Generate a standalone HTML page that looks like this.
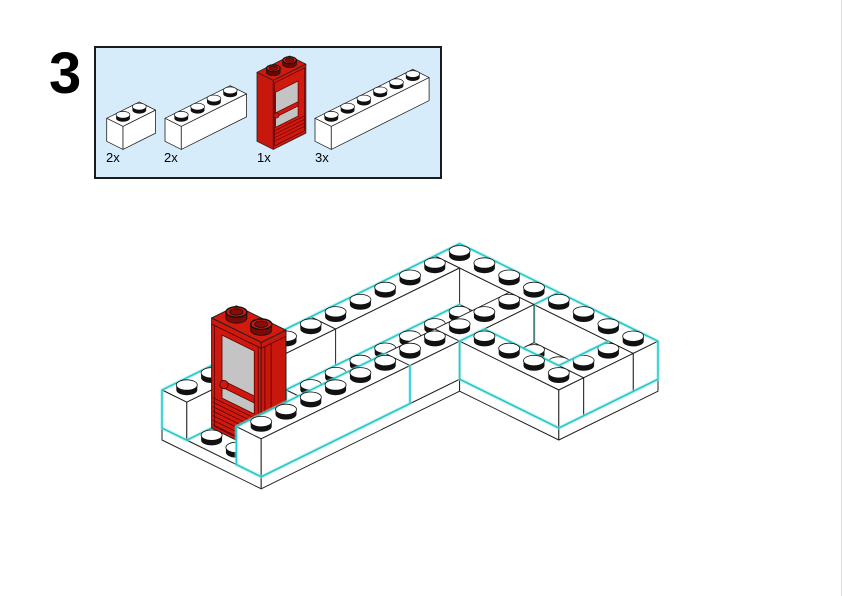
<!DOCTYPE html>
<html>
<head>
<meta charset="utf-8">
<style>
html,body{margin:0;padding:0;background:#fff;}
body{width:842px;height:596px;overflow:hidden;}
svg{display:block;}
</style>
</head>
<body>
<svg width="842" height="596" viewBox="0 0 842 596" xmlns="http://www.w3.org/2000/svg">
<defs>
  <g id="st">
    <path d="M-10.5,-5 L-10.5,0 A10.5,5.2 0 0 0 10.5,0 L10.5,-5 Z" fill="#111"/>
    <ellipse cx="0" cy="-5" rx="10.5" ry="5.2" fill="#fff" stroke="#111" stroke-width="0.8"/>
  </g>
  <g id="dst">
    <path d="M-10.5,-6 L-10.5,0 A10.5,5.2 0 0 0 10.5,0 L10.5,-6 Z" fill="#7a0a05" stroke="#111" stroke-width="0.8"/>
    <ellipse cx="0" cy="-6" rx="10.5" ry="5.2" fill="#d0190e" stroke="#111" stroke-width="1.4"/>
    <ellipse cx="0" cy="-6" rx="6.5" ry="3.2" fill="#8a0c06" stroke="#111" stroke-width="0.8"/>
  </g>
  <g id="ss">
    <path d="M-6.9,-3.5 L-6.9,0 A6.9,3.45 0 0 0 6.9,0 L6.9,-3.5 Z" fill="#111"/>
    <ellipse cx="0" cy="-3.5" rx="6.9" ry="3.45" fill="#fff" stroke="#111" stroke-width="0.7"/>
  </g>
  <g id="dss">
    <path d="M-6.9,-4 L-6.9,0 A6.9,3.45 0 0 0 6.9,0 L6.9,-4 Z" fill="#6a0804" stroke="#111" stroke-width="0.6"/>
    <ellipse cx="0" cy="-4" rx="6.9" ry="3.45" fill="#d0190e" stroke="#111" stroke-width="1.1"/>
    <ellipse cx="0" cy="-4" rx="4.2" ry="2.1" fill="#8a0c06" stroke="#111" stroke-width="0.6"/>
  </g>
</defs>

<!-- page edge line -->
<rect x="841" y="0" width="1" height="596" fill="#dcdcdc"/>

<!-- step number -->
<text x="49" y="93" font-family="Liberation Sans, Arial, sans-serif" font-weight="bold" font-size="58" fill="#000">3</text>

<!-- parts list box -->
<rect x="95" y="47" width="346" height="131" fill="#d6ecfb" stroke="#1a1a1a" stroke-width="2"/>

<g stroke="#222" stroke-width="0.8" stroke-linejoin="round">
  <!-- 1x2 -->
  <polygon points="106.7,118.3 139.3,102 155.6,110.15 123,126.45" fill="#fff"/>
  <polygon points="106.7,118.3 123,126.45 123,149.45 106.7,141.3" fill="#fff"/>
  <polygon points="123,126.45 155.6,110.15 155.6,133.15 123,149.45" fill="#fff"/>
  <!-- 1x4 -->
  <polygon points="165,118.3 230.2,85.7 246.5,93.85 181.3,126.45" fill="#fff"/>
  <polygon points="165,118.3 181.3,126.45 181.3,149.45 165,141.3" fill="#fff"/>
  <polygon points="181.3,126.45 246.5,93.85 246.5,116.85 181.3,149.45" fill="#fff"/>
  <!-- 1x6 -->
  <polygon points="315,118.3 412.8,69.4 429.1,77.55 331.3,126.45" fill="#fff"/>
  <polygon points="315,118.3 331.3,126.45 331.3,149.45 315,141.3" fill="#fff"/>
  <polygon points="331.3,126.45 429.1,77.55 429.1,100.55 331.3,149.45" fill="#fff"/>
  <!-- door -->
  <polygon points="257,72.3 289.6,56 305.9,64.15 273.3,80.45" fill="#d0190e"/>
  <polygon points="257,72.3 273.3,80.45 273.3,149.45 257,141.3" fill="#c8170c"/>
  <polygon points="273.3,80.45 305.9,64.15 305.9,133.15 273.3,149.45" fill="#d0190e"/>
</g>
<g transform="matrix(16.3,-8.15,0,-1,273.3,149.45)">
  <rect x="0.08" y="3" width="1.84" height="63" fill="none" stroke="#5a0000" stroke-width="0.7" vector-effect="non-scaling-stroke"/>
  <rect x="0.14" y="21" width="1.38" height="35" fill="#c4c4c4" stroke="#5a0000" stroke-width="0.7" vector-effect="non-scaling-stroke"/>
  <rect x="0.14" y="31" width="1.38" height="4.5" fill="#d0190e" stroke="#5a0000" stroke-width="0.6" vector-effect="non-scaling-stroke"/>
  <path d="M0.05,18 L1.95,18 M0.05,14.5 L1.95,14.5 M0.05,11 L1.95,11 M0.05,7.5 L1.95,7.5" stroke="#5a0000" stroke-width="0.6" fill="none" vector-effect="non-scaling-stroke"/>
</g>
<circle cx="276.5" cy="115.5" r="2.6" fill="#d0190e" stroke="#400" stroke-width="0.6"/>

<use href="#ss" x="123" y="118.3"/><use href="#ss" x="139.3" y="110.15"/>
<use href="#ss" x="181.3" y="118.3"/><use href="#ss" x="197.6" y="110.15"/><use href="#ss" x="213.9" y="102"/><use href="#ss" x="230.2" y="93.85"/>
<use href="#ss" x="331.3" y="118.3"/><use href="#ss" x="347.6" y="110.15"/><use href="#ss" x="363.9" y="102"/><use href="#ss" x="380.2" y="93.85"/><use href="#ss" x="396.5" y="85.7"/><use href="#ss" x="412.8" y="77.55"/>
<use href="#dss" x="273.3" y="72.3"/><use href="#dss" x="289.6" y="64.15"/>

<g font-family="Liberation Sans, Arial, sans-serif" font-size="13" fill="#000">
  <text x="106" y="162">2x</text>
  <text x="164" y="162">2x</text>
  <text x="257" y="162">1x</text>
  <text x="315" y="162">3x</text>
</g>

<!-- ============ MAIN MODEL ============ -->
<g fill="#fff" stroke="#222" stroke-width="1" stroke-linejoin="round">
  <!-- plate -->
  <polygon points="162,428 459.6,281.6 658,379.2 558.8,428 459.6,379.2 261.2,476.8"/>
  <polygon points="162,428 261.2,476.8 261.2,488.8 162,440"/>
  <polygon points="261.2,476.8 459.6,379.2 459.6,391.2 261.2,488.8"/>
  <polygon points="459.6,379.2 558.8,428 558.8,440 459.6,391.2"/>
  <polygon points="558.8,428 658,379.2 658,391.2 558.8,440"/>
  <!-- right wall -->
  <polygon points="434.8,255.8 633.2,353.4 633.2,391.4 434.8,293.8"/>
  <polygon points="434.8,255.8 459.6,243.6 658,341.2 633.2,353.4"/>
  <polygon points="633.2,353.4 658,341.2 658,379.2 633.2,391.4"/>
  <path d="M534,304.6 L558.8,292.4 M534,304.6 L534,342.6" fill="none"/>
  <!-- back wall -->
  <polygon points="162,390 434.8,255.8 459.6,268 186.8,402.2"/>
  <polygon points="162,390 186.8,402.2 186.8,440.2 162,428"/>
  <polygon points="186.8,402.2 459.6,268 459.6,306 186.8,440.2"/>
  <path d="M310.8,316.8 L335.6,329 L335.6,367" fill="none"/>
</g>
<g fill="none" stroke-linejoin="round" stroke-linecap="round">
  <path d="M162,428 L162,390 L434.8,255.8 L459.6,243.6 L658,341.2 L658,379.2 M534,342.6 L534,304.6 L558.8,292.4 M162,428 L186.8,440.2 L211.6,428" stroke="#8ee8e8" stroke-width="3.6" opacity="0.5"/>
  <path d="M162,428 L162,390 L434.8,255.8 L459.6,243.6 L658,341.2 L658,379.2 M534,342.6 L534,304.6 L558.8,292.4 M162,428 L186.8,440.2 L211.6,428" stroke="#22c8c8" stroke-width="1.5"/>
</g>
<!-- back wall & right wall studs -->
<use href="#st" x="186.8" y="390"/><use href="#st" x="211.6" y="377.8"/><use href="#st" x="236.4" y="365.6"/><use href="#st" x="261.2" y="353.4"/><use href="#st" x="286" y="341.2"/><use href="#st" x="310.8" y="329"/><use href="#st" x="335.6" y="316.8"/><use href="#st" x="360.4" y="304.6"/><use href="#st" x="385.2" y="292.4"/><use href="#st" x="410" y="280.2"/><use href="#st" x="434.8" y="268"/>
<use href="#st" x="459.6" y="255.8"/><use href="#st" x="484.4" y="268"/><use href="#st" x="509.2" y="280.2"/><use href="#st" x="534" y="292.4"/><use href="#st" x="558.8" y="304.6"/><use href="#st" x="583.6" y="316.8"/><use href="#st" x="608.4" y="329"/><use href="#st" x="633.2" y="341.2"/>

<!-- middle row -->
<g fill="#fff" stroke="#222" stroke-width="1" stroke-linejoin="round">
  <polygon points="286,389.8 310.8,402 310.8,440 286,427.8"/>
  <polygon points="286,389.8 459.6,304.4 484.4,316.6 310.8,402"/>
</g>
<g fill="none" stroke-linecap="round">
  <path d="M286,402 L286,389.8 L459.6,304.4" stroke="#8ee8e8" stroke-width="3.6" opacity="0.5"/>
  <path d="M286,402 L286,389.8 L459.6,304.4" stroke="#22c8c8" stroke-width="1.5"/>
</g>
<use href="#st" x="310.8" y="389.8"/><use href="#st" x="335.6" y="377.6"/><use href="#st" x="360.4" y="365.4"/><use href="#st" x="385.2" y="353.2"/><use href="#st" x="410" y="341"/><use href="#st" x="434.8" y="328.8"/><use href="#st" x="459.6" y="316.6"/>

<!-- door -->
<g stroke="#222" stroke-width="1" stroke-linejoin="round">
  <polygon points="211.6,318 236.4,305.8 286,330.2 261.2,342.4" fill="#d41a0e"/>
  <polygon points="211.6,318 261.2,342.4 261.2,452.4 211.6,428" fill="#d0190e"/>
  <polygon points="261.2,342.4 286,330.2 286,440.2 261.2,452.4" fill="#c8170c"/>
</g>
<g transform="matrix(24.8,12.2,0,-1,211.6,440)">
  <rect x="0.12" y="15" width="1.76" height="101" fill="none" stroke="#5a0000" stroke-width="0.8" vector-effect="non-scaling-stroke"/>
  <rect x="0.42" y="47" width="1.3" height="63" fill="#c4c4c4" stroke="#5a0000" stroke-width="0.8" vector-effect="non-scaling-stroke"/>
  <rect x="0.42" y="58" width="1.3" height="7" fill="#d0190e" stroke="#5a0000" stroke-width="0.8" vector-effect="non-scaling-stroke"/>
  <path d="M0.05,43 L1.95,43 M0.05,38.5 L1.95,38.5 M0.05,34 L1.95,34 M0.05,29.5 L1.95,29.5 M0.05,25 L1.95,25 M0.05,20.5 L1.95,20.5 M0.05,16 L1.95,16" stroke="#5a0000" stroke-width="0.8" fill="none" vector-effect="non-scaling-stroke"/>
  <path d="M0,116 L2,116" stroke="#5a0000" stroke-width="0.8" fill="none" vector-effect="non-scaling-stroke"/>
</g>
<g transform="matrix(24.8,-12.2,0,-1,261.2,464.4)">
  <path d="M0.15,14 L0.15,116 M0.4,14 L0.4,116 M0,116 L1,116" stroke="#5a0000" stroke-width="0.8" fill="none" vector-effect="non-scaling-stroke"/>
</g>
<circle cx="224" cy="384.6" r="4.2" fill="#d0190e" stroke="#400" stroke-width="0.8"/>
<use href="#dst" x="236.4" y="318"/><use href="#dst" x="261.2" y="330.2"/>

<!-- plate studs in left gap -->
<use href="#st" x="211.6" y="440.2"/><use href="#st" x="236.4" y="452.4"/>

<!-- front wall -->
<g fill="#fff" stroke="#222" stroke-width="1" stroke-linejoin="round">
  <polygon points="236.4,426.6 261.2,438.8 261.2,476.8 236.4,464.6"/>
  <polygon points="236.4,426.6 509.2,292.4 534,304.6 261.2,438.8"/>
  <polygon points="261.2,438.8 534,304.6 534,342.6 261.2,476.8"/>
  <path d="M385.2,353.4 L410,365.6 L410,403.6 M434.8,329 L459.6,341.2" fill="none"/>
</g>
<g fill="none" stroke-linejoin="round" stroke-linecap="round">
  <path d="M236.4,426.6 L236.4,464.6 L261.2,476.8 L410,403.6 L410,365.6 M236.4,426.6 L385.2,353.4" stroke="#8ee8e8" stroke-width="3.6" opacity="0.5"/>
  <path d="M236.4,426.6 L236.4,464.6 L261.2,476.8 L410,403.6 L410,365.6 M236.4,426.6 L385.2,353.4" stroke="#22c8c8" stroke-width="1.5"/>
</g>
<use href="#st" x="261.2" y="426.6"/><use href="#st" x="286" y="414.4"/><use href="#st" x="310.8" y="402.2"/><use href="#st" x="335.6" y="390"/><use href="#st" x="360.4" y="377.8"/><use href="#st" x="385.2" y="365.6"/><use href="#st" x="410" y="353.4"/><use href="#st" x="434.8" y="341.2"/><use href="#st" x="459.6" y="329"/><use href="#st" x="484.4" y="316.8"/><use href="#st" x="509.2" y="304.6"/>

<!-- plate studs in hole -->
<use href="#st" x="534" y="354.8"/><use href="#st" x="509.2" y="367"/><use href="#st" x="558.8" y="367"/><use href="#st" x="534" y="379.2"/><use href="#st" x="583.6" y="379.2"/><use href="#st" x="558.8" y="391.4"/>

<!-- right part front 1x2 -->
<g fill="#fff" stroke="#222" stroke-width="1" stroke-linejoin="round">
  <polygon points="558.8,365.6 608.4,341.2 633.2,353.4 583.6,377.8"/>
  <polygon points="583.6,377.8 633.2,353.4 633.2,391.4 583.6,415.8"/>
</g>
<use href="#st" x="583.6" y="365.6"/><use href="#st" x="608.4" y="353.4"/>

<!-- right part left wall -->
<g fill="#fff" stroke="#222" stroke-width="1" stroke-linejoin="round">
  <polygon points="459.6,341.2 484.4,329 583.6,377.8 558.8,390"/>
  <polygon points="459.6,341.2 558.8,390 558.8,428 459.6,379.2"/>
  <polygon points="558.8,390 583.6,377.8 583.6,415.8 558.8,428"/>
</g>
<g fill="none" stroke-linejoin="round" stroke-linecap="round">
  <path d="M658,379.2 L633.2,391.4 L583.6,415.8 L558.8,428 L459.6,379.2 L459.6,341.2 L484.4,329 L558.8,365.6 L608.4,341.2" stroke="#8ee8e8" stroke-width="3.6" opacity="0.5"/>
  <path d="M658,379.2 L633.2,391.4 L583.6,415.8 L558.8,428 L459.6,379.2 L459.6,341.2 L484.4,329 L558.8,365.6 L608.4,341.2" stroke="#22c8c8" stroke-width="1.5"/>
</g>
<use href="#st" x="484.4" y="341.2"/><use href="#st" x="509.2" y="353.4"/><use href="#st" x="534" y="365.6"/><use href="#st" x="558.8" y="377.8"/>

</svg>
</body>
</html>
